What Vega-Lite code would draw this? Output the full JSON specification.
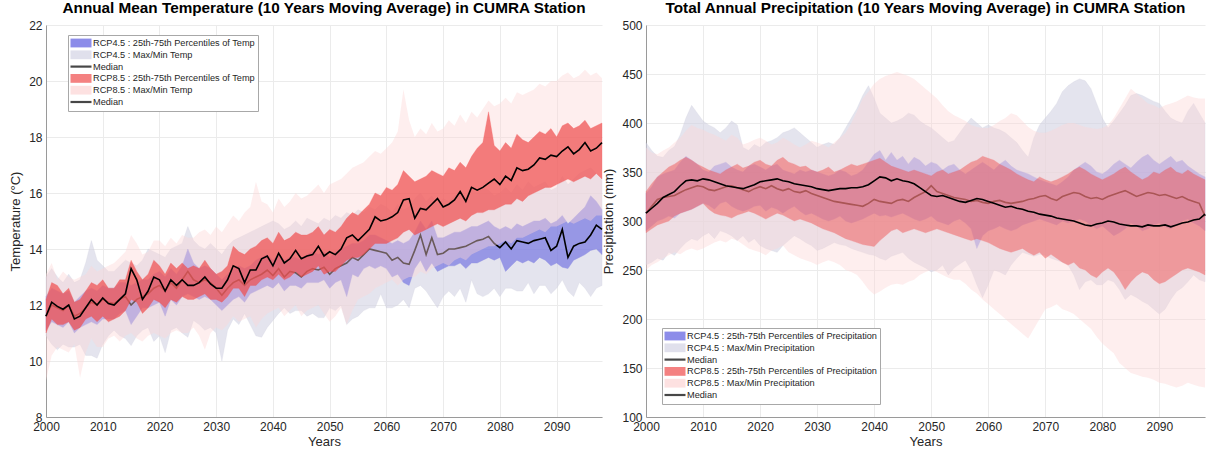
{
"$schema":"https://vega.github.io/schema/vega-lite/v6.json",
"padding":{"left":9,"top":0,"right":3,"bottom":5},
"background":"white",
"bounds":"flush",
"spacing":44,
"resolve":{"scale":{"color":"independent","shape":"independent","x":"independent","y":"independent"},"legend":{"color":"independent","shape":"independent"}},
"config":{
 "font":"Liberation Sans",
 "view":{"stroke":null},
 "axis":{"labelFont":"Liberation Sans","labelFontSize":12,"labelColor":"#262626","titleFont":"Liberation Sans","titleFontSize":13,"titleFontWeight":"normal","titleColor":"#262626","domainColor":"#9a9a9a","gridColor":"#ebebeb","ticks":false,"labelPadding":4},
 "legend":{"symbolOpacity":0.72,"symbolSize":100,"symbolStrokeWidth":0,"labelFontSize":9.2,"labelFont":"Liberation Sans","labelColor":"#262626","labelLimit":0,"rowPadding":0.8,"padding":3,"labelOffset":7,"symbolOffset":5,"fillColor":"white","strokeColor":"#a8a8a8"},
 "title":{"font":"Liberation Sans","fontSize":15.3,"fontWeight":"bold","color":"#000000","offset":3,"anchor":"middle"}
},
"data":{"values":[
{"yr":2000,"t4lo":10.9,"t4q1":11.1,"t4md":11.6,"t4q3":12.3,"t4hi":13.0,"t8lo":9.3,"t8q1":11.0,"t8md":11.6,"t8q3":12.2,"t8hi":13.1,"p4lo":255,"p4q1":290,"p4md":308,"p4q3":328,"p4hi":380,"p8lo":250,"p8q1":288,"p8md":308,"p8q3":330,"p8hi":375},
{"yr":2001,"t4lo":10.6,"t4q1":11.4,"t4md":12.0,"t4q3":12.6,"t4hi":13.3,"t8lo":10.2,"t8q1":11.5,"t8md":12.1,"t8q3":12.8,"t8hi":13.5,"p4lo":258,"p4q1":295,"p4md":315,"p4q3":335,"p4hi":372,"p8lo":255,"p8q1":292,"p8md":313,"p8q3":338,"p8hi":370},
{"yr":2002,"t4lo":10.4,"t4q1":11.3,"t4md":11.9,"t4q3":12.5,"t4hi":13.0,"t8lo":10.5,"t8q1":11.3,"t8md":11.95,"t8q3":12.7,"t8hi":12.9,"p4lo":262,"p4q1":300,"p4md":322,"p4q3":345,"p4hi":366,"p8lo":258,"p8q1":296,"p8md":318,"p8q3":345,"p8hi":368},
{"yr":2003,"t4lo":10.6,"t4q1":11.2,"t4md":11.8,"t4q3":12.4,"t4hi":12.8,"t8lo":10.4,"t8q1":11.3,"t8md":11.85,"t8q3":12.4,"t8hi":13.2,"p4lo":260,"p4q1":302,"p4md":324,"p4q3":348,"p4hi":365,"p8lo":262,"p8q1":298,"p8md":324,"p8q3":350,"p8hi":372},
{"yr":2004,"t4lo":10.5,"t4q1":11.4,"t4md":12.0,"t4q3":12.5,"t4hi":13.1,"t8lo":10.3,"t8q1":11.4,"t8md":12.0,"t8q3":12.6,"t8hi":13.0,"p4lo":268,"p4q1":305,"p4md":325,"p4q3":350,"p4hi":372,"p8lo":265,"p8q1":300,"p8md":327,"p8q3":355,"p8hi":375},
{"yr":2005,"t4lo":10.5,"t4q1":11.0,"t4md":11.6,"t4q3":12.1,"t4hi":12.8,"t8lo":10.6,"t8q1":11.1,"t8md":11.5,"t8q3":12.1,"t8hi":12.9,"p4lo":265,"p4q1":303,"p4md":326,"p4q3":352,"p4hi":376,"p8lo":268,"p8q1":305,"p8md":330,"p8q3":358,"p8hi":380},
{"yr":2006,"t4lo":10.6,"t4q1":11.2,"t4md":11.7,"t4q3":12.3,"t4hi":12.9,"t8lo":9.4,"t8q1":11.2,"t8md":11.6,"t8q3":12.2,"t8hi":13.0,"p4lo":272,"p4q1":308,"p4md":329,"p4q3":360,"p4hi":388,"p8lo":266,"p8q1":308,"p8md":336,"p8q3":362,"p8hi":385},
{"yr":2007,"t4lo":10.2,"t4q1":11.3,"t4md":11.9,"t4q3":12.5,"t4hi":13.5,"t8lo":10.3,"t8q1":11.5,"t8md":11.9,"t8q3":12.5,"t8hi":13.1,"p4lo":278,"p4q1":310,"p4md":332,"p4q3":366,"p4hi":405,"p8lo":270,"p8q1":310,"p8md":341,"p8q3":365,"p8hi":392},
{"yr":2008,"t4lo":10.2,"t4q1":11.4,"t4md":12.1,"t4q3":12.6,"t4hi":14.3,"t8lo":10.8,"t8q1":11.6,"t8md":12.2,"t8q3":12.8,"t8hi":13.4,"p4lo":282,"p4q1":312,"p4md":334,"p4q3":362,"p4hi":418,"p8lo":272,"p8q1":312,"p8md":342,"p8q3":362,"p8hi":398},
{"yr":2009,"t4lo":10.1,"t4q1":11.3,"t4md":12.0,"t4q3":12.5,"t4hi":13.6,"t8lo":10.5,"t8q1":11.4,"t8md":12.0,"t8q3":12.7,"t8hi":13.2,"p4lo":280,"p4q1":315,"p4md":336,"p4q3":358,"p4hi":410,"p8lo":270,"p8q1":315,"p8md":341,"p8q3":358,"p8hi":395},
{"yr":2010,"t4lo":10.6,"t4q1":11.5,"t4md":12.2,"t4q3":12.7,"t4hi":13.4,"t8lo":10.5,"t8q1":11.6,"t8md":12.25,"t8q3":12.9,"t8hi":13.3,"p4lo":285,"p4q1":318,"p4md":335,"p4q3":352,"p4hi":402,"p8lo":272,"p8q1":318,"p8md":343,"p8q3":355,"p8hi":393},
{"yr":2011,"t4lo":10.9,"t4q1":11.5,"t4md":12.1,"t4q3":12.6,"t4hi":13.2,"t8lo":10.8,"t8q1":11.4,"t8md":12.05,"t8q3":12.6,"t8hi":13.4,"p4lo":288,"p4q1":316,"p4md":332,"p4q3":350,"p4hi":398,"p8lo":275,"p8q1":312,"p8md":342,"p8q3":352,"p8hi":390},
{"yr":2012,"t4lo":11.1,"t4q1":11.5,"t4md":12.05,"t4q3":12.6,"t4hi":13.2,"t8lo":10.9,"t8q1":11.5,"t8md":12.0,"t8q3":12.6,"t8hi":13.5,"p4lo":282,"p4q1":312,"p4md":331,"p4q3":356,"p4hi":395,"p8lo":278,"p8q1":308,"p8md":340,"p8q3":350,"p8hi":388},
{"yr":2013,"t4lo":10.9,"t4q1":11.7,"t4md":12.2,"t4q3":12.8,"t4hi":13.4,"t8lo":10.7,"t8q1":11.6,"t8md":12.2,"t8q3":12.9,"t8hi":13.7,"p4lo":290,"p4q1":318,"p4md":333,"p4q3":358,"p4hi":390,"p8lo":280,"p8q1":306,"p8md":338,"p8q3":348,"p8hi":385},
{"yr":2014,"t4lo":10.8,"t4q1":11.8,"t4md":12.3,"t4q3":12.8,"t4hi":13.6,"t8lo":10.9,"t8q1":11.8,"t8md":12.4,"t8q3":12.9,"t8hi":13.9,"p4lo":288,"p4q1":320,"p4md":335,"p4q3":360,"p4hi":395,"p8lo":278,"p8q1":305,"p8md":336,"p8q3":352,"p8hi":382},
{"yr":2015,"t4lo":10.55,"t4q1":11.3,"t4md":12.0,"t4q3":12.7,"t4hi":13.5,"t8lo":11.0,"t8q1":12.2,"t8md":13.3,"t8q3":13.6,"t8hi":14.5,"p4lo":285,"p4q1":315,"p4md":336,"p4q3":355,"p4hi":402,"p8lo":282,"p8q1":303,"p8md":335,"p8q3":355,"p8hi":388},
{"yr":2016,"t4lo":10.9,"t4q1":11.6,"t4md":12.2,"t4q3":12.8,"t4hi":13.4,"t8lo":10.8,"t8q1":12.1,"t8md":12.9,"t8q3":13.2,"t8hi":14.2,"p4lo":280,"p4q1":312,"p4md":334,"p4q3":352,"p4hi":398,"p8lo":280,"p8q1":306,"p8md":334,"p8q3":358,"p8hi":385},
{"yr":2017,"t4lo":11.1,"t4q1":11.9,"t4md":12.3,"t4q3":12.9,"t4hi":13.6,"t8lo":10.7,"t8q1":11.7,"t8md":12.2,"t8q3":12.9,"t8hi":13.8,"p4lo":285,"p4q1":310,"p4md":332,"p4q3":350,"p4hi":375,"p8lo":276,"p8q1":308,"p8md":333,"p8q3":354,"p8hi":378},
{"yr":2018,"t4lo":11.2,"t4q1":11.9,"t4md":12.4,"t4q3":12.9,"t4hi":14.0,"t8lo":10.9,"t8q1":11.9,"t8md":12.5,"t8q3":13.1,"t8hi":13.9,"p4lo":278,"p4q1":312,"p4md":330,"p4q3":356,"p4hi":372,"p8lo":272,"p8q1":310,"p8md":335,"p8q3":356,"p8hi":380},
{"yr":2019,"t4lo":10.7,"t4q1":12.0,"t4md":12.6,"t4q3":13.1,"t4hi":13.9,"t8lo":11.0,"t8q1":12.2,"t8md":13.0,"t8q3":13.6,"t8hi":14.3,"p4lo":282,"p4q1":315,"p4md":333,"p4q3":358,"p4hi":378,"p8lo":270,"p8q1":308,"p8md":337,"p8q3":360,"p8hi":383},
{"yr":2020,"t4lo":10.9,"t4q1":12.1,"t4md":12.7,"t4q3":13.2,"t4hi":13.8,"t8lo":10.9,"t8q1":12.1,"t8md":12.9,"t8q3":13.4,"t8hi":14.3,"p4lo":275,"p4q1":316,"p4md":335,"p4q3":355,"p4hi":375,"p8lo":268,"p8q1":305,"p8md":340,"p8q3":362,"p8hi":385},
{"yr":2021,"t4lo":10.3,"t4q1":11.6,"t4md":12.5,"t4q3":13.0,"t4hi":13.7,"t8lo":10.8,"t8q1":11.9,"t8md":12.5,"t8q3":13.1,"t8hi":14.1,"p4lo":272,"p4q1":310,"p4md":333,"p4q3":352,"p4hi":380,"p8lo":265,"p8q1":302,"p8md":341,"p8q3":358,"p8hi":382},
{"yr":2022,"t4lo":11.1,"t4q1":12.2,"t4md":12.8,"t4q3":13.3,"t4hi":14.0,"t8lo":11.0,"t8q1":12.2,"t8md":12.9,"t8q3":13.5,"t8hi":14.4,"p4lo":270,"p4q1":314,"p4md":336,"p4q3":356,"p4hi":382,"p8lo":270,"p8q1":305,"p8md":342,"p8q3":356,"p8hi":378},
{"yr":2023,"t4lo":11.2,"t4q1":12.0,"t4md":12.6,"t4q3":13.1,"t4hi":14.1,"t8lo":11.1,"t8q1":12.1,"t8md":12.7,"t8q3":13.3,"t8hi":14.2,"p4lo":268,"p4q1":312,"p4md":333,"p4q3":358,"p4hi":385,"p8lo":272,"p8q1":308,"p8md":343,"p8q3":362,"p8hi":380},
{"yr":2024,"t4lo":11.0,"t4q1":12.3,"t4md":12.9,"t4q3":13.4,"t4hi":14.2,"t8lo":11.0,"t8q1":12.3,"t8md":12.9,"t8q3":13.5,"t8hi":14.5,"p4lo":275,"p4q1":308,"p4md":331,"p4q3":352,"p4hi":390,"p8lo":275,"p8q1":306,"p8md":341,"p8q3":365,"p8hi":385},
{"yr":2025,"t4lo":10.85,"t4q1":12.4,"t4md":13.2,"t4q3":14.0,"t4hi":14.8,"t8lo":11.0,"t8q1":12.2,"t8md":12.7,"t8q3":13.3,"t8hi":14.4,"p4lo":280,"p4q1":312,"p4md":333,"p4q3":350,"p4hi":392,"p8lo":268,"p8q1":303,"p8md":340,"p8q3":360,"p8hi":382},
{"yr":2026,"t4lo":11.45,"t4q1":12.3,"t4md":12.9,"t4q3":13.5,"t4hi":14.3,"t8lo":11.2,"t8q1":12.2,"t8md":12.7,"t8q3":13.4,"t8hi":14.4,"p4lo":285,"p4q1":315,"p4md":330,"p4q3":348,"p4hi":395,"p8lo":265,"p8q1":300,"p8md":338,"p8q3":358,"p8hi":378},
{"yr":2027,"t4lo":11.3,"t4q1":12.2,"t4md":12.8,"t4q3":13.3,"t4hi":14.1,"t8lo":10.9,"t8q1":12.3,"t8md":12.8,"t8q3":13.3,"t8hi":14.6,"p4lo":282,"p4q1":310,"p4md":329,"p4q3":352,"p4hi":390,"p8lo":262,"p8q1":302,"p8md":337,"p8q3":355,"p8hi":375},
{"yr":2028,"t4lo":11.1,"t4q1":12.3,"t4md":12.9,"t4q3":13.4,"t4hi":14.0,"t8lo":10.4,"t8q1":12.4,"t8md":13.0,"t8q3":13.6,"t8hi":14.7,"p4lo":278,"p4q1":306,"p4md":331,"p4q3":350,"p4hi":385,"p8lo":260,"p8q1":300,"p8md":336,"p8q3":356,"p8hi":378},
{"yr":2029,"t4lo":11.2,"t4q1":12.2,"t4md":12.8,"t4q3":13.3,"t4hi":14.2,"t8lo":11.0,"t8q1":12.2,"t8md":12.75,"t8q3":13.3,"t8hi":14.5,"p4lo":275,"p4q1":308,"p4md":328,"p4q3":352,"p4hi":380,"p8lo":258,"p8q1":298,"p8md":335,"p8q3":352,"p8hi":382},
{"yr":2030,"t4lo":11.0,"t4q1":12.0,"t4md":12.6,"t4q3":13.1,"t4hi":14.0,"t8lo":11.2,"t8q1":12.2,"t8md":12.6,"t8q3":13.1,"t8hi":14.8,"p4lo":270,"p4q1":305,"p4md":326,"p4q3":350,"p4hi":375,"p8lo":255,"p8q1":295,"p8md":333,"p8q3":350,"p8hi":380},
{"yr":2031,"t4lo":10.0,"t4q1":11.8,"t4md":12.35,"t4q3":12.9,"t4hi":13.8,"t8lo":11.1,"t8q1":12.1,"t8md":12.6,"t8q3":13.2,"t8hi":14.6,"p4lo":272,"p4q1":302,"p4md":324,"p4q3":348,"p4hi":378,"p8lo":258,"p8q1":292,"p8md":332,"p8q3":352,"p8hi":378},
{"yr":2032,"t4lo":11.1,"t4q1":12.0,"t4md":12.6,"t4q3":13.1,"t4hi":14.1,"t8lo":11.3,"t8q1":12.3,"t8md":12.9,"t8q3":13.4,"t8hi":14.9,"p4lo":275,"p4q1":300,"p4md":322,"p4q3":346,"p4hi":380,"p8lo":260,"p8q1":290,"p8md":331,"p8q3":355,"p8hi":375},
{"yr":2033,"t4lo":11.5,"t4q1":12.2,"t4md":12.8,"t4q3":13.3,"t4hi":14.3,"t8lo":11.6,"t8q1":12.6,"t8md":13.4,"t8q3":14.1,"t8hi":15.2,"p4lo":278,"p4q1":302,"p4md":320,"p4q3":348,"p4hi":378,"p8lo":258,"p8q1":288,"p8md":332,"p8q3":350,"p8hi":380},
{"yr":2034,"t4lo":11.3,"t4q1":12.3,"t4md":12.9,"t4q3":13.4,"t4hi":14.4,"t8lo":11.4,"t8q1":12.6,"t8md":13.3,"t8q3":13.9,"t8hi":15.0,"p4lo":276,"p4q1":305,"p4md":319,"p4q3":352,"p4hi":385,"p8lo":255,"p8q1":285,"p8md":333,"p8q3":352,"p8hi":385},
{"yr":2035,"t4lo":11.7,"t4q1":12.1,"t4md":12.7,"t4q3":13.3,"t4hi":14.5,"t8lo":11.5,"t8q1":12.3,"t8md":12.8,"t8q3":13.8,"t8hi":15.3,"p4lo":275,"p4q1":300,"p4md":318,"p4q3":350,"p4hi":395,"p8lo":250,"p8q1":282,"p8md":333,"p8q3":355,"p8hi":390},
{"yr":2036,"t4lo":11.3,"t4q1":12.4,"t4md":12.9,"t4q3":13.4,"t4hi":14.6,"t8lo":11.6,"t8q1":12.7,"t8md":13.25,"t8q3":14.0,"t8hi":15.5,"p4lo":272,"p4q1":298,"p4md":317,"p4q3":346,"p4hi":405,"p8lo":248,"p8q1":280,"p8md":334,"p8q3":358,"p8hi":400},
{"yr":2037,"t4lo":10.9,"t4q1":12.5,"t4md":13.0,"t4q3":13.6,"t4hi":14.7,"t8lo":11.2,"t8q1":12.7,"t8md":13.25,"t8q3":14.1,"t8hi":16.4,"p4lo":270,"p4q1":300,"p4md":316,"p4q3":348,"p4hi":415,"p8lo":245,"p8q1":278,"p8md":334,"p8q3":356,"p8hi":412},
{"yr":2038,"t4lo":10.85,"t4q1":12.6,"t4md":13.1,"t4q3":13.7,"t4hi":14.8,"t8lo":11.5,"t8q1":12.9,"t8md":13.65,"t8q3":14.3,"t8hi":15.7,"p4lo":268,"p4q1":302,"p4md":315,"p4q3":352,"p4hi":428,"p8lo":238,"p8q1":276,"p8md":335,"p8q3":358,"p8hi":425},
{"yr":2039,"t4lo":11.2,"t4q1":12.7,"t4md":13.25,"t4q3":13.8,"t4hi":14.9,"t8lo":11.7,"t8q1":13.0,"t8md":13.75,"t8q3":14.4,"t8hi":15.6,"p4lo":266,"p4q1":305,"p4md":318,"p4q3":360,"p4hi":438,"p8lo":230,"p8q1":275,"p8md":337,"p8q3":360,"p8hi":432},
{"yr":2040,"t4lo":11.45,"t4q1":12.6,"t4md":13.05,"t4q3":13.6,"t4hi":15.0,"t8lo":11.8,"t8q1":12.9,"t8md":13.4,"t8q3":14.2,"t8hi":15.3,"p4lo":265,"p4q1":308,"p4md":322,"p4q3":368,"p4hi":425,"p8lo":225,"p8q1":274,"p8md":341,"p8q3":362,"p8hi":440},
{"yr":2041,"t4lo":11.7,"t4q1":12.8,"t4md":13.3,"t4q3":13.8,"t4hi":14.9,"t8lo":11.9,"t8q1":13.1,"t8md":13.85,"t8q3":14.6,"t8hi":15.8,"p4lo":262,"p4q1":305,"p4md":320,"p4q3":372,"p4hi":410,"p8lo":228,"p8q1":280,"p8md":345,"p8q3":364,"p8hi":445},
{"yr":2042,"t4lo":11.9,"t4q1":12.5,"t4md":13.0,"t4q3":13.6,"t4hi":14.7,"t8lo":11.6,"t8q1":12.9,"t8md":13.5,"t8q3":14.3,"t8hi":15.5,"p4lo":260,"p4q1":306,"p4md":319,"p4q3":362,"p4hi":405,"p8lo":232,"p8q1":285,"p8md":344,"p8q3":360,"p8hi":448},
{"yr":2043,"t4lo":11.7,"t4q1":12.7,"t4md":13.2,"t4q3":13.7,"t4hi":14.8,"t8lo":11.8,"t8q1":13.0,"t8md":13.65,"t8q3":14.4,"t8hi":15.7,"p4lo":264,"p4q1":304,"p4md":318,"p4q3":370,"p4hi":400,"p8lo":235,"p8q1":290,"p8md":341,"p8q3":356,"p8hi":450},
{"yr":2044,"t4lo":11.8,"t4q1":12.7,"t4md":13.15,"t4q3":13.7,"t4hi":15.0,"t8lo":12.0,"t8q1":13.2,"t8md":13.95,"t8q3":14.6,"t8hi":16.0,"p4lo":266,"p4q1":306,"p4md":321,"p4q3":362,"p4hi":402,"p8lo":236,"p8q1":292,"p8md":343,"p8q3":354,"p8hi":452},
{"yr":2045,"t4lo":11.8,"t4q1":12.6,"t4md":13.0,"t4q3":13.6,"t4hi":14.8,"t8lo":11.6,"t8q1":13.0,"t8md":13.65,"t8q3":14.5,"t8hi":15.8,"p4lo":268,"p4q1":308,"p4md":322,"p4q3":366,"p4hi":405,"p8lo":235,"p8q1":288,"p8md":341,"p8q3":352,"p8hi":450},
{"yr":2046,"t4lo":11.6,"t4q1":12.8,"t4md":13.2,"t4q3":13.8,"t4hi":15.1,"t8lo":11.8,"t8q1":13.1,"t8md":13.75,"t8q3":14.5,"t8hi":15.9,"p4lo":262,"p4q1":305,"p4md":320,"p4q3":358,"p4hi":410,"p8lo":238,"p8q1":290,"p8md":340,"p8q3":350,"p8hi":448},
{"yr":2047,"t4lo":11.7,"t4q1":12.8,"t4md":13.3,"t4q3":13.9,"t4hi":15.0,"t8lo":11.9,"t8q1":13.2,"t8md":13.8,"t8q3":14.6,"t8hi":16.1,"p4lo":258,"p4q1":302,"p4md":324,"p4q3":365,"p4hi":408,"p8lo":240,"p8q1":292,"p8md":338,"p8q3":352,"p8hi":445},
{"yr":2048,"t4lo":11.55,"t4q1":12.8,"t4md":13.25,"t4q3":13.8,"t4hi":14.9,"t8lo":12.0,"t8q1":13.4,"t8md":14.1,"t8q3":14.8,"t8hi":16.3,"p4lo":255,"p4q1":300,"p4md":327,"p4q3":362,"p4hi":402,"p8lo":245,"p8q1":290,"p8md":334,"p8q3":350,"p8hi":440},
{"yr":2049,"t4lo":11.55,"t4q1":12.9,"t4md":13.35,"t4q3":13.9,"t4hi":15.1,"t8lo":11.7,"t8q1":13.1,"t8md":13.75,"t8q3":14.5,"t8hi":16.0,"p4lo":252,"p4q1":302,"p4md":330,"p4q3":356,"p4hi":398,"p8lo":248,"p8q1":288,"p8md":330,"p8q3":348,"p8hi":435},
{"yr":2050,"t4lo":11.9,"t4q1":12.6,"t4md":13.1,"t4q3":13.7,"t4hi":15.0,"t8lo":11.4,"t8q1":13.2,"t8md":13.9,"t8q3":14.7,"t8hi":16.3,"p4lo":248,"p4q1":305,"p4md":336,"p4q3":360,"p4hi":395,"p8lo":250,"p8q1":290,"p8md":326,"p8q3":346,"p8hi":430},
{"yr":2051,"t4lo":11.8,"t4q1":12.8,"t4md":13.3,"t4q3":13.9,"t4hi":15.2,"t8lo":11.6,"t8q1":13.2,"t8md":13.8,"t8q3":14.6,"t8hi":16.4,"p4lo":250,"p4q1":300,"p4md":330,"p4q3":358,"p4hi":390,"p8lo":248,"p8q1":292,"p8md":325,"p8q3":350,"p8hi":425},
{"yr":2052,"t4lo":12.0,"t4q1":12.9,"t4md":13.4,"t4q3":14.0,"t4hi":15.1,"t8lo":11.9,"t8q1":13.4,"t8md":14.0,"t8q3":14.8,"t8hi":16.5,"p4lo":255,"p4q1":298,"p4md":328,"p4q3":352,"p4hi":385,"p8lo":245,"p8q1":290,"p8md":326,"p8q3":352,"p8hi":418},
{"yr":2053,"t4lo":11.3,"t4q1":12.3,"t4md":13.5,"t4q3":14.1,"t4hi":15.3,"t8lo":11.3,"t8q1":13.6,"t8md":14.4,"t8q3":15.1,"t8hi":16.7,"p4lo":245,"p4q1":296,"p4md":326,"p4q3":356,"p4hi":380,"p8lo":242,"p8q1":288,"p8md":324,"p8q3":348,"p8hi":412},
{"yr":2054,"t4lo":11.5,"t4q1":13.1,"t4md":13.7,"t4q3":14.2,"t4hi":15.2,"t8lo":11.8,"t8q1":13.7,"t8md":14.5,"t8q3":15.3,"t8hi":16.9,"p4lo":252,"p4q1":300,"p4md":324,"p4q3":358,"p4hi":382,"p8lo":240,"p8q1":286,"p8md":322,"p8q3":350,"p8hi":408},
{"yr":2055,"t4lo":11.6,"t4q1":13.0,"t4md":13.6,"t4q3":14.2,"t4hi":15.4,"t8lo":12.2,"t8q1":13.7,"t8md":14.3,"t8q3":15.2,"t8hi":17.0,"p4lo":256,"p4q1":302,"p4md":323,"p4q3":352,"p4hi":390,"p8lo":240,"p8q1":284,"p8md":320,"p8q3":352,"p8hi":405},
{"yr":2056,"t4lo":11.8,"t4q1":13.3,"t4md":13.8,"t4q3":14.3,"t4hi":15.3,"t8lo":12.3,"t8q1":13.8,"t8md":14.5,"t8q3":15.4,"t8hi":17.1,"p4lo":260,"p4q1":298,"p4md":322,"p4q3":348,"p4hi":398,"p8lo":236,"p8q1":282,"p8md":319,"p8q3":356,"p8hi":402},
{"yr":2057,"t4lo":11.9,"t4q1":13.4,"t4md":14.0,"t4q3":14.5,"t4hi":15.5,"t8lo":12.4,"t8q1":14.0,"t8md":14.7,"t8q3":15.6,"t8hi":17.3,"p4lo":250,"p4q1":292,"p4md":320,"p4q3":352,"p4hi":405,"p8lo":230,"p8q1":280,"p8md":321,"p8q3":360,"p8hi":398},
{"yr":2058,"t4lo":11.9,"t4q1":13.3,"t4md":13.95,"t4q3":14.5,"t4hi":15.4,"t8lo":12.6,"t8q1":14.2,"t8md":15.15,"t8q3":16.0,"t8hi":17.5,"p4lo":235,"p4q1":272,"p4md":321,"p4q3":356,"p4hi":400,"p8lo":226,"p8q1":282,"p8md":323,"p8q3":362,"p8hi":396},
{"yr":2059,"t4lo":12.4,"t4q1":13.4,"t4md":13.9,"t4q3":14.4,"t4hi":15.6,"t8lo":12.7,"t8q1":14.2,"t8md":15.0,"t8q3":15.9,"t8hi":17.4,"p4lo":222,"p4q1":285,"p4md":319,"p4q3":360,"p4hi":395,"p8lo":220,"p8q1":280,"p8md":322,"p8q3":366,"p8hi":395},
{"yr":2060,"t4lo":11.9,"t4q1":13.3,"t4md":13.85,"t4q3":14.3,"t4hi":15.5,"t8lo":12.8,"t8q1":14.2,"t8md":15.05,"t8q3":16.2,"t8hi":17.6,"p4lo":235,"p4q1":290,"p4md":318,"p4q3":356,"p4hi":398,"p8lo":215,"p8q1":278,"p8md":320,"p8q3":364,"p8hi":395},
{"yr":2061,"t4lo":11.9,"t4q1":13.0,"t4md":13.6,"t4q3":14.2,"t4hi":15.3,"t8lo":12.9,"t8q1":14.3,"t8md":15.15,"t8q3":16.1,"t8hi":17.8,"p4lo":250,"p4q1":292,"p4md":320,"p4q3":352,"p4hi":395,"p8lo":210,"p8q1":275,"p8md":318,"p8q3":362,"p8hi":398},
{"yr":2062,"t4lo":12.0,"t4q1":13.1,"t4md":13.7,"t4q3":14.3,"t4hi":15.6,"t8lo":12.7,"t8q1":14.4,"t8md":15.3,"t8q3":16.3,"t8hi":18.2,"p4lo":248,"p4q1":295,"p4md":321,"p4q3":358,"p4hi":393,"p8lo":205,"p8q1":272,"p8md":316,"p8q3":358,"p8hi":402},
{"yr":2063,"t4lo":12.2,"t4q1":12.8,"t4md":13.5,"t4q3":14.2,"t4hi":15.4,"t8lo":12.9,"t8q1":14.6,"t8md":15.75,"t8q3":16.8,"t8hi":19.7,"p4lo":245,"p4q1":292,"p4md":319,"p4q3":362,"p4hi":390,"p8lo":200,"p8q1":270,"p8md":314,"p8q3":355,"p8hi":405},
{"yr":2064,"t4lo":11.9,"t4q1":12.7,"t4md":13.45,"t4q3":14.3,"t4hi":15.5,"t8lo":13.0,"t8q1":14.7,"t8md":15.8,"t8q3":16.6,"t8hi":18.6,"p4lo":255,"p4q1":290,"p4md":318,"p4q3":356,"p4hi":385,"p8lo":195,"p8q1":268,"p8md":315,"p8q3":352,"p8hi":410},
{"yr":2065,"t4lo":12.6,"t4q1":13.3,"t4md":13.95,"t4q3":14.6,"t4hi":15.8,"t8lo":13.0,"t8q1":14.5,"t8md":15.1,"t8q3":16.4,"t8hi":18.0,"p4lo":262,"p4q1":292,"p4md":319,"p4q3":352,"p4hi":380,"p8lo":190,"p8q1":270,"p8md":313,"p8q3":348,"p8hi":408},
{"yr":2066,"t4lo":12.7,"t4q1":13.6,"t4md":14.5,"t4q3":15.0,"t4hi":16.0,"t8lo":13.2,"t8q1":14.6,"t8md":15.45,"t8q3":16.5,"t8hi":18.3,"p4lo":268,"p4q1":296,"p4md":320,"p4q3":350,"p4hi":372,"p8lo":185,"p8q1":272,"p8md":312,"p8q3":345,"p8hi":402},
{"yr":2067,"t4lo":12.5,"t4q1":13.2,"t4md":13.8,"t4q3":14.7,"t4hi":15.7,"t8lo":13.1,"t8q1":14.7,"t8md":15.4,"t8q3":16.6,"t8hi":18.1,"p4lo":266,"p4q1":298,"p4md":322,"p4q3":348,"p4hi":365,"p8lo":180,"p8q1":268,"p8md":310,"p8q3":342,"p8hi":396},
{"yr":2068,"t4lo":12.2,"t4q1":13.5,"t4md":14.4,"t4q3":15.0,"t4hi":15.9,"t8lo":13.3,"t8q1":14.8,"t8md":15.6,"t8q3":16.8,"t8hi":18.5,"p4lo":264,"p4q1":300,"p4md":323,"p4q3":345,"p4hi":385,"p8lo":190,"p8q1":265,"p8md":309,"p8q3":340,"p8hi":392},
{"yr":2069,"t4lo":11.9,"t4q1":13.2,"t4md":13.8,"t4q3":14.4,"t4hi":15.6,"t8lo":13.4,"t8q1":14.9,"t8md":15.8,"t8q3":16.7,"t8hi":18.2,"p4lo":266,"p4q1":302,"p4md":325,"p4q3":342,"p4hi":398,"p8lo":200,"p8q1":268,"p8md":307,"p8q3":345,"p8hi":390},
{"yr":2070,"t4lo":12.3,"t4q1":13.3,"t4md":13.85,"t4q3":14.4,"t4hi":15.8,"t8lo":13.5,"t8q1":14.8,"t8md":15.5,"t8q3":16.6,"t8hi":18.3,"p4lo":265,"p4q1":300,"p4md":326,"p4q3":340,"p4hi":405,"p8lo":210,"p8q1":262,"p8md":306,"p8q3":342,"p8hi":390},
{"yr":2071,"t4lo":12.5,"t4q1":13.4,"t4md":14.0,"t4q3":14.5,"t4hi":15.7,"t8lo":13.4,"t8q1":14.9,"t8md":15.6,"t8q3":16.9,"t8hi":18.6,"p4lo":262,"p4q1":298,"p4md":323,"p4q3":338,"p4hi":412,"p8lo":212,"p8q1":266,"p8md":305,"p8q3":340,"p8hi":392},
{"yr":2072,"t4lo":12.3,"t4q1":13.4,"t4md":14.0,"t4q3":14.6,"t4hi":15.9,"t8lo":13.6,"t8q1":15.0,"t8md":15.75,"t8q3":16.8,"t8hi":18.4,"p4lo":260,"p4q1":296,"p4md":321,"p4q3":336,"p4hi":420,"p8lo":215,"p8q1":262,"p8md":303,"p8q3":342,"p8hi":395},
{"yr":2073,"t4lo":12.6,"t4q1":13.5,"t4md":14.05,"t4q3":14.6,"t4hi":16.0,"t8lo":13.7,"t8q1":15.1,"t8md":16.05,"t8q3":17.1,"t8hi":18.8,"p4lo":258,"p4q1":300,"p4md":325,"p4q3":340,"p4hi":432,"p8lo":210,"p8q1":258,"p8md":302,"p8q3":345,"p8hi":398},
{"yr":2074,"t4lo":12.1,"t4q1":13.3,"t4md":14.1,"t4q3":14.7,"t4hi":15.8,"t8lo":13.6,"t8q1":15.0,"t8md":15.7,"t8q3":16.9,"t8hi":18.5,"p4lo":255,"p4q1":298,"p4md":327,"p4q3":345,"p4hi":438,"p8lo":208,"p8q1":255,"p8md":301,"p8q3":348,"p8hi":400},
{"yr":2075,"t4lo":12.9,"t4q1":13.5,"t4md":14.2,"t4q3":14.8,"t4hi":16.1,"t8lo":13.8,"t8q1":15.2,"t8md":16.2,"t8q3":17.3,"t8hi":18.9,"p4lo":245,"p4q1":300,"p4md":329,"p4q3":352,"p4hi":442,"p8lo":205,"p8q1":258,"p8md":300,"p8q3":352,"p8hi":400},
{"yr":2076,"t4lo":12.4,"t4q1":13.5,"t4md":14.3,"t4q3":14.8,"t4hi":16.0,"t8lo":13.9,"t8q1":15.3,"t8md":16.1,"t8q3":17.6,"t8hi":18.7,"p4lo":230,"p4q1":302,"p4md":328,"p4q3":356,"p4hi":445,"p8lo":200,"p8q1":252,"p8md":298,"p8q3":355,"p8hi":398},
{"yr":2077,"t4lo":12.3,"t4q1":13.6,"t4md":14.35,"t4q3":14.9,"t4hi":16.2,"t8lo":14.0,"t8q1":15.3,"t8md":16.2,"t8q3":17.8,"t8hi":19.0,"p4lo":238,"p4q1":300,"p4md":325,"p4q3":360,"p4hi":443,"p8lo":195,"p8q1":250,"p8md":296,"p8q3":352,"p8hi":396},
{"yr":2078,"t4lo":12.4,"t4q1":13.7,"t4md":14.45,"t4q3":15.0,"t4hi":16.1,"t8lo":14.1,"t8q1":15.4,"t8md":16.35,"t8q3":18.9,"t8hi":19.3,"p4lo":240,"p4q1":296,"p4md":323,"p4q3":356,"p4hi":435,"p8lo":190,"p8q1":245,"p8md":295,"p8q3":348,"p8hi":395},
{"yr":2079,"t4lo":12.6,"t4q1":13.6,"t4md":14.2,"t4q3":14.8,"t4hi":15.9,"t8lo":14.1,"t8q1":15.4,"t8md":16.5,"t8q3":17.7,"t8hi":19.1,"p4lo":235,"p4q1":292,"p4md":324,"p4q3":350,"p4hi":420,"p8lo":182,"p8q1":242,"p8md":297,"p8q3":345,"p8hi":394},
{"yr":2080,"t4lo":12.3,"t4q1":13.7,"t4md":14.05,"t4q3":14.7,"t4hi":16.0,"t8lo":14.2,"t8q1":15.5,"t8md":16.3,"t8q3":17.5,"t8hi":19.2,"p4lo":235,"p4q1":295,"p4md":322,"p4q3":348,"p4hi":405,"p8lo":175,"p8q1":248,"p8md":298,"p8q3":342,"p8hi":395},
{"yr":2081,"t4lo":12.6,"t4q1":13.2,"t4md":14.25,"t4q3":14.8,"t4hi":16.2,"t8lo":14.3,"t8q1":15.6,"t8md":16.6,"t8q3":17.8,"t8hi":19.4,"p4lo":240,"p4q1":290,"p4md":325,"p4q3":352,"p4hi":395,"p8lo":170,"p8q1":252,"p8md":300,"p8q3":345,"p8hi":398},
{"yr":2082,"t4lo":12.6,"t4q1":13.4,"t4md":14.0,"t4q3":14.7,"t4hi":16.0,"t8lo":14.2,"t8q1":15.6,"t8md":16.45,"t8q3":17.6,"t8hi":19.2,"p4lo":238,"p4q1":285,"p4md":327,"p4q3":358,"p4hi":402,"p8lo":165,"p8q1":248,"p8md":299,"p8q3":348,"p8hi":405},
{"yr":2083,"t4lo":12.5,"t4q1":13.6,"t4md":14.3,"t4q3":14.9,"t4hi":16.3,"t8lo":14.4,"t8q1":15.8,"t8md":16.9,"t8q3":18.1,"t8hi":19.6,"p4lo":230,"p4q1":288,"p4md":329,"p4q3":362,"p4hi":410,"p8lo":155,"p8q1":240,"p8md":297,"p8q3":352,"p8hi":415},
{"yr":2084,"t4lo":12.5,"t4q1":13.5,"t4md":14.25,"t4q3":14.8,"t4hi":16.1,"t8lo":14.4,"t8q1":15.7,"t8md":16.8,"t8q3":17.9,"t8hi":19.5,"p4lo":220,"p4q1":292,"p4md":331,"p4q3":358,"p4hi":418,"p8lo":150,"p8q1":230,"p8md":296,"p8q3":355,"p8hi":425},
{"yr":2085,"t4lo":12.8,"t4q1":13.6,"t4md":14.2,"t4q3":14.9,"t4hi":16.4,"t8lo":14.5,"t8q1":15.9,"t8md":16.85,"t8q3":17.8,"t8hi":19.6,"p4lo":225,"p4q1":298,"p4md":328,"p4q3":354,"p4hi":428,"p8lo":145,"p8q1":238,"p8md":295,"p8q3":350,"p8hi":435},
{"yr":2086,"t4lo":12.4,"t4q1":13.5,"t4md":14.3,"t4q3":15.0,"t4hi":16.2,"t8lo":14.6,"t8q1":16.0,"t8md":17.0,"t8q3":18.0,"t8hi":19.7,"p4lo":222,"p4q1":295,"p4md":325,"p4q3":360,"p4hi":430,"p8lo":143,"p8q1":244,"p8md":295,"p8q3":346,"p8hi":430},
{"yr":2087,"t4lo":12.7,"t4q1":13.7,"t4md":14.35,"t4q3":15.0,"t4hi":16.3,"t8lo":14.7,"t8q1":16.1,"t8md":17.25,"t8q3":18.2,"t8hi":19.9,"p4lo":218,"p4q1":290,"p4md":327,"p4q3":365,"p4hi":428,"p8lo":141,"p8q1":248,"p8md":294,"p8q3":342,"p8hi":425},
{"yr":2088,"t4lo":12.7,"t4q1":13.6,"t4md":14.4,"t4q3":15.1,"t4hi":16.4,"t8lo":14.6,"t8q1":16.2,"t8md":17.2,"t8q3":18.1,"t8hi":19.8,"p4lo":215,"p4q1":292,"p4md":329,"p4q3":368,"p4hi":425,"p8lo":140,"p8q1":246,"p8md":296,"p8q3":345,"p8hi":420},
{"yr":2089,"t4lo":12.4,"t4q1":13.4,"t4md":13.95,"t4q3":14.9,"t4hi":16.1,"t8lo":14.8,"t8q1":16.2,"t8md":17.35,"t8q3":18.3,"t8hi":20.0,"p4lo":210,"p4q1":296,"p4md":328,"p4q3":362,"p4hi":422,"p8lo":138,"p8q1":240,"p8md":295,"p8q3":350,"p8hi":418},
{"yr":2090,"t4lo":12.6,"t4q1":13.5,"t4md":14.1,"t4q3":15.0,"t4hi":16.2,"t8lo":14.8,"t8q1":16.3,"t8md":17.3,"t8q3":18.0,"t8hi":20.0,"p4lo":205,"p4q1":298,"p4md":326,"p4q3":358,"p4hi":420,"p8lo":135,"p8q1":236,"p8md":295,"p8q3":348,"p8hi":415},
{"yr":2091,"t4lo":12.9,"t4q1":13.35,"t4md":14.7,"t4q3":15.2,"t4hi":16.6,"t8lo":14.9,"t8q1":16.4,"t8md":17.5,"t8q3":18.4,"t8hi":20.2,"p4lo":210,"p4q1":294,"p4md":327,"p4q3":362,"p4hi":412,"p8lo":134,"p8q1":238,"p8md":296,"p8q3":352,"p8hi":418},
{"yr":2092,"t4lo":12.5,"t4q1":13.3,"t4md":13.7,"t4q3":14.9,"t4hi":16.3,"t8lo":15.0,"t8q1":16.5,"t8md":17.65,"t8q3":18.5,"t8hi":20.3,"p4lo":220,"p4q1":292,"p4md":325,"p4q3":366,"p4hi":405,"p8lo":132,"p8q1":242,"p8md":294,"p8q3":355,"p8hi":420},
{"yr":2093,"t4lo":12.3,"t4q1":13.6,"t4md":14.1,"t4q3":15.1,"t4hi":16.5,"t8lo":14.9,"t8q1":16.4,"t8md":17.4,"t8q3":18.3,"t8hi":20.1,"p4lo":228,"p4q1":296,"p4md":323,"p4q3":360,"p4hi":402,"p8lo":130,"p8q1":246,"p8md":296,"p8q3":350,"p8hi":422},
{"yr":2094,"t4lo":12.8,"t4q1":13.7,"t4md":14.2,"t4q3":15.3,"t4hi":16.7,"t8lo":15.0,"t8q1":16.5,"t8md":17.55,"t8q3":18.4,"t8hi":20.2,"p4lo":232,"p4q1":300,"p4md":325,"p4q3":362,"p4hi":400,"p8lo":132,"p8q1":250,"p8md":298,"p8q3":348,"p8hi":425},
{"yr":2095,"t4lo":12.6,"t4q1":13.8,"t4md":14.25,"t4q3":15.5,"t4hi":16.8,"t8lo":15.1,"t8q1":16.6,"t8md":17.8,"t8q3":18.6,"t8hi":20.4,"p4lo":238,"p4q1":302,"p4md":322,"p4q3":356,"p4hi":412,"p8lo":135,"p8q1":252,"p8md":299,"p8q3":352,"p8hi":428},
{"yr":2096,"t4lo":12.3,"t4q1":13.95,"t4md":14.5,"t4q3":15.9,"t4hi":16.9,"t8lo":15.0,"t8q1":16.5,"t8md":17.5,"t8q3":18.3,"t8hi":20.2,"p4lo":245,"p4q1":298,"p4md":320,"p4q3":352,"p4hi":420,"p8lo":133,"p8q1":250,"p8md":301,"p8q3":348,"p8hi":426},
{"yr":2097,"t4lo":12.6,"t4q1":14.0,"t4md":14.85,"t4q3":15.7,"t4hi":16.7,"t8lo":15.2,"t8q1":16.7,"t8md":17.6,"t8q3":18.4,"t8hi":20.3,"p4lo":240,"p4q1":295,"p4md":318,"p4q3":348,"p4hi":410,"p8lo":131,"p8q1":248,"p8md":302,"p8q3":345,"p8hi":425},
{"yr":2098,"t4lo":12.7,"t4q1":13.8,"t4md":14.7,"t4q3":15.4,"t4hi":16.5,"t8lo":15.2,"t8q1":16.5,"t8md":17.8,"t8q3":18.5,"t8hi":20.1,"p4lo":238,"p4q1":290,"p4md":305,"p4q3":345,"p4hi":400,"p8lo":130,"p8q1":245,"p8md":307,"p8q3":342,"p8hi":425}
]},
"hconcat":[
{
 "width":556,"height":392,
 "title":"Annual Mean Temperature (10 Years Moving Average) in CUMRA Station",
 "encoding":{"x":{"field":"yr","type":"quantitative","scale":{"domain":[2000,2098],"nice":false,"zero":false},"axis":{"values":[2000,2010,2020,2030,2040,2050,2060,2070,2080,2090],"format":"d","title":"Years","titlePadding":3,"labelFlush":false}}},
 "layer":[
  {"mark":{"type":"area","opacity":0.62,"stroke":"#b8b8d0","strokeWidth":0.6,"strokeOpacity":0.5},
   "encoding":{"y":{"field":"t4lo","type":"quantitative","scale":{"domain":[8,22],"nice":false,"zero":false},"axis":{"values":[8,10,12,14,16,18,20,22],"title":"Temperature (°C)","titlePadding":6}},"y2":{"field":"t4hi"},
   "color":{"datum":"RCP4.5 : Max/Min Temp","scale":{"domain":["RCP4.5 : 25th-75th Percentiles of Temp","RCP4.5 : Max/Min Temp","Median","RCP8.5 : 25th-75th Percentiles of Temp","RCP8.5 : Max/Min Temp","Median "],"range":["#6060e0","#d4d4e4","#000000","#f05050","#fcd6d6","#000000"]},
    "legend":{"orient":"none","legendX":22,"legendY":10,"title":null}}}},
  {"mark":{"type":"area","opacity":0.58,"stroke":"#5050d8","strokeWidth":0.6,"strokeOpacity":0.6},
   "encoding":{"y":{"field":"t4q1","type":"quantitative"},"y2":{"field":"t4q3"},"color":{"datum":"RCP4.5 : 25th-75th Percentiles of Temp"}}},
  {"mark":{"type":"line","strokeWidth":1.6,"opacity":1},
   "encoding":{"y":{"field":"t4md","type":"quantitative"},"color":{"datum":"Median"}}},
  {"mark":{"type":"area","opacity":0.42},
   "encoding":{"y":{"field":"t8lo","type":"quantitative"},"y2":{"field":"t8hi"},"color":{"datum":"RCP8.5 : Max/Min Temp"}}},
  {"mark":{"type":"area","opacity":0.72,"stroke":"#f03030","strokeWidth":0.6,"strokeOpacity":0.5},
   "encoding":{"y":{"field":"t8q1","type":"quantitative"},"y2":{"field":"t8q3"},"color":{"datum":"RCP8.5 : 25th-75th Percentiles of Temp"}}},
  {"mark":{"type":"line","strokeWidth":1.6,"opacity":1},
   "encoding":{"y":{"field":"t8md","type":"quantitative"},"color":{"datum":"Median "}}},
  {"mark":{"type":"point","opacity":0,"filled":true},
   "encoding":{"y":{"field":"t8md","type":"quantitative"},"color":{"datum":"Median "},
    "shape":{"datum":"Median ","scale":{"domain":["RCP4.5 : 25th-75th Percentiles of Temp","RCP4.5 : Max/Min Temp","Median","RCP8.5 : 25th-75th Percentiles of Temp","RCP8.5 : Max/Min Temp","Median "],"range":["M-2.1,-0.88H2.1V0.88H-2.1Z","M-2.1,-0.88H2.1V0.88H-2.1Z","M-2.1,-0.22H2.1V0.22H-2.1Z","M-2.1,-0.88H2.1V0.88H-2.1Z","M-2.1,-0.88H2.1V0.88H-2.1Z","M-2.1,-0.22H2.1V0.22H-2.1Z"]},
    "legend":{"orient":"none","legendX":22,"legendY":10,"title":null}}}}
 ]
},
{
 "width":559,"height":392,
 "title":"Total Annual Precipitation (10 Years Moving Average) in CUMRA Station",
 "encoding":{"x":{"field":"yr","type":"quantitative","scale":{"domain":[2000,2098],"nice":false,"zero":false},"axis":{"values":[2000,2010,2020,2030,2040,2050,2060,2070,2080,2090],"format":"d","title":"Years","titlePadding":3,"labelFlush":false}}},
 "layer":[
  {"mark":{"type":"area","opacity":0.62,"stroke":"#b8b8d0","strokeWidth":0.6,"strokeOpacity":0.5},
   "encoding":{"y":{"field":"p4lo","type":"quantitative","scale":{"domain":[100,500],"nice":false,"zero":false},"axis":{"values":[100,150,200,250,300,350,400,450,500],"title":"Precipitation (mm)","titlePadding":6}},"y2":{"field":"p4hi"},
   "color":{"datum":"RCP4.5 : Max/Min Precipitation","scale":{"domain":["RCP4.5 : 25th-75th Percentiles of Precipitation","RCP4.5 : Max/Min Precipitation","Median","RCP8.5 : 25th-75th Percentiles of Precipitation","RCP8.5 : Max/Min Precipitation","Median "],"range":["#6060e0","#d4d4e4","#000000","#f05050","#fcd6d6","#000000"]},
    "legend":{"orient":"none","legendX":16,"legendY":303,"title":null}}}},
  {"mark":{"type":"area","opacity":0.45,"stroke":"#5050d8","strokeWidth":0.6,"strokeOpacity":0.6},
   "encoding":{"y":{"field":"p4q1","type":"quantitative"},"y2":{"field":"p4q3"},"color":{"datum":"RCP4.5 : 25th-75th Percentiles of Precipitation"}}},
  {"mark":{"type":"line","strokeWidth":1.6,"opacity":1},
   "encoding":{"y":{"field":"p4md","type":"quantitative"},"color":{"datum":"Median"}}},
  {"mark":{"type":"area","opacity":0.42},
   "encoding":{"y":{"field":"p8lo","type":"quantitative"},"y2":{"field":"p8hi"},"color":{"datum":"RCP8.5 : Max/Min Precipitation"}}},
  {"mark":{"type":"area","opacity":0.48,"stroke":"#f03030","strokeWidth":0.6,"strokeOpacity":0.5},
   "encoding":{"y":{"field":"p8q1","type":"quantitative"},"y2":{"field":"p8q3"},"color":{"datum":"RCP8.5 : 25th-75th Percentiles of Precipitation"}}},
  {"mark":{"type":"line","strokeWidth":1.6,"opacity":1},
   "encoding":{"y":{"field":"p8md","type":"quantitative"},"color":{"datum":"Median "}}},
  {"mark":{"type":"point","opacity":0,"filled":true},
   "encoding":{"y":{"field":"p8md","type":"quantitative"},"color":{"datum":"Median "},
    "shape":{"datum":"Median ","scale":{"domain":["RCP4.5 : 25th-75th Percentiles of Precipitation","RCP4.5 : Max/Min Precipitation","Median","RCP8.5 : 25th-75th Percentiles of Precipitation","RCP8.5 : Max/Min Precipitation","Median "],"range":["M-2.1,-0.88H2.1V0.88H-2.1Z","M-2.1,-0.88H2.1V0.88H-2.1Z","M-2.1,-0.22H2.1V0.22H-2.1Z","M-2.1,-0.88H2.1V0.88H-2.1Z","M-2.1,-0.88H2.1V0.88H-2.1Z","M-2.1,-0.22H2.1V0.22H-2.1Z"]},
    "legend":{"orient":"none","legendX":16,"legendY":303,"title":null}}}}
 ]
}
]
}
